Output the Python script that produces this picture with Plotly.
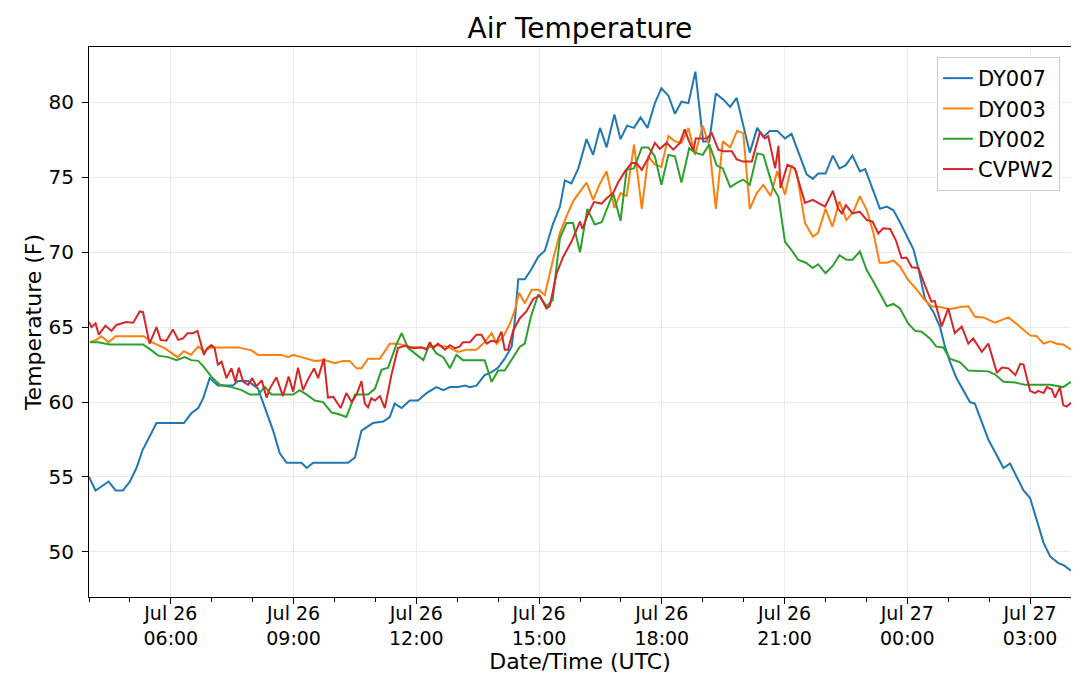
import pandas as pd
import plotly.graph_objects as go

# ---------------- data (hours after Jul 26 04:00 UTC, temperature in F) ----------------
dy007_h = [0.00, 0.16, 0.48, 0.65, 0.83, 1.00, 1.16, 1.31, 1.65, 2.32, 2.50, 2.67, 2.79, 2.95,
           3.15, 3.52, 3.64, 3.89, 4.13, 4.34, 4.50, 4.66, 4.83, 5.19, 5.32, 5.48, 6.33, 6.50,
           6.66, 6.94, 7.19, 7.35, 7.47, 7.64, 7.84, 8.04, 8.25, 8.49, 8.66, 8.82, 9.02, 9.19,
           9.31, 9.47, 9.67, 9.84, 10.00, 10.16, 10.33, 10.41, 10.49, 10.65, 10.82, 10.98, 11.14,
           11.34, 11.51, 11.63, 11.79, 11.96, 12.16, 12.32, 12.49, 12.65, 12.84, 12.99, 13.15,
           13.32, 13.48, 13.65, 13.83, 13.99, 14.16, 14.32, 14.48, 14.65, 14.82, 15.01, 15.16,
           15.32, 15.50, 15.67, 15.83, 16.15, 16.33, 16.48, 16.64, 16.82, 17.01, 17.17, 17.54,
           17.69, 17.82, 18.00, 18.18, 18.34, 18.49, 18.66, 18.84, 18.97, 19.33, 19.50, 19.66,
           19.82, 20.15, 20.27, 20.43, 20.64, 20.80, 20.92, 21.04, 21.20, 21.36, 21.53, 21.65,
           21.98, 22.35, 22.51, 22.84, 23.00, 23.33, 23.49, 23.69, 23.83, 24.00]
dy007_t = [55.0, 54.1, 54.7, 54.1, 54.1, 54.7, 55.6, 56.8, 58.6, 58.6, 59.25, 59.6, 60.25, 61.6,
           61.1, 61.1, 61.4, 61.4, 60.9, 59.25, 58.1, 56.6, 55.95, 55.95, 55.6, 55.95, 55.95, 56.3,
           58.1, 58.6, 58.7, 59.0, 59.9, 59.6, 60.1, 60.1, 60.6, 61.0, 60.8, 61.0, 61.0, 61.1,
           61.0, 61.1, 61.8, 62.0, 62.3, 62.9, 63.7, 65.5, 68.2, 68.2, 68.9, 69.7, 70.1,
           71.9, 73.05, 74.8, 74.6, 75.6, 77.55, 76.5, 78.3, 77.0, 79.2, 77.55, 78.45,
           78.3, 79.0, 78.3, 79.95, 80.95, 80.45, 79.25, 80.05, 79.95, 82.05, 77.4, 77.4,
           80.6, 80.2, 79.7, 80.3, 76.65, 78.3, 77.7, 78.1, 78.1, 77.6, 77.9, 75.2,
           74.9, 75.25, 75.25, 76.45, 75.6, 75.8, 76.45, 75.4, 75.55, 72.9, 73.05, 72.8,
           72.0, 70.2, 68.9, 66.9, 66.0, 65.0, 63.7, 62.7, 61.6, 60.8, 60.0, 59.9,
           57.5, 55.6, 55.9, 54.1, 53.6, 50.6, 49.7, 49.25, 49.1, 48.75]

dy003_h = [0.02, 0.18, 0.30, 0.48, 0.65, 1.34, 1.53, 1.85, 2.16, 2.32, 2.49, 2.67, 2.81, 2.99,
           3.64, 3.97, 4.13, 4.70, 4.87, 4.99, 5.19, 5.52, 5.76, 6.01, 6.21, 6.37, 6.54, 6.66,
           6.82, 7.11, 7.35, 7.55, 7.84, 8.25, 8.49, 8.74, 9.02, 9.23, 9.47, 9.67, 9.84, 9.96,
           10.12, 10.29, 10.41, 10.51, 10.65, 10.82, 10.98, 11.14, 11.34, 11.51, 11.67, 11.83,
           12.00, 12.16, 12.32, 12.49, 12.65, 12.84, 12.99, 13.14, 13.32, 13.51, 13.67, 13.83,
           13.99, 14.16, 14.32, 14.48, 14.65, 14.81, 15.00, 15.16, 15.32, 15.49, 15.67, 15.84,
           15.99, 16.15, 16.32, 16.48, 16.66, 16.82, 17.01, 17.17, 17.29, 17.50, 17.69, 17.82,
           18.00, 18.17, 18.34, 18.51, 18.68, 18.84, 19.01, 19.17, 19.32, 19.50, 19.66, 19.82,
           20.02, 20.23, 20.43, 20.59, 20.80, 21.04, 21.29, 21.49, 21.65, 21.86, 22.14, 22.47,
           22.68, 23.00, 23.16, 23.33, 23.49, 23.65, 23.81, 24.00]
dy003_t = [64.0, 64.15, 64.4, 64.0, 64.4, 64.4, 64.0, 63.6, 63.0, 63.4, 63.15, 63.7, 63.4, 63.65,
           63.65, 63.45, 63.15, 63.15, 63.0, 63.15, 63.0, 62.75, 62.8, 62.6, 62.75, 62.75, 62.25, 62.25,
           62.9, 62.9, 63.9, 63.9, 63.7, 63.6, 63.8, 63.7, 63.35, 63.5, 63.5, 64.0, 64.6, 63.9,
           64.35, 65.25, 66.15, 67.3, 66.6, 67.5, 67.5, 67.15, 69.5, 71.3, 72.4, 73.4,
           74.05, 74.65, 73.5, 74.6, 75.4, 72.95, 73.95, 73.75, 77.2, 72.9, 76.4, 75.85,
           75.7, 77.75, 77.4, 77.3, 78.3, 76.5, 78.45, 77.1, 72.9, 77.4, 77.0, 78.1,
           77.95, 72.9, 73.95, 74.5, 73.75, 75.4, 73.85, 75.8, 75.4, 71.95, 71.05, 71.3,
           72.9, 71.7, 73.4, 72.15, 72.7, 73.75, 72.8, 71.3, 69.3, 69.3, 69.45, 69.05,
           68.15, 67.5, 66.8, 66.4, 66.35, 66.2, 66.35, 66.4, 65.7, 65.65, 65.3, 65.65,
           65.2, 64.45, 64.4, 63.9, 64.05, 63.9, 63.85, 63.5]

dy002_h = [0.02, 0.22, 0.51, 1.32, 1.53, 1.69, 1.93, 2.14, 2.34, 2.50, 2.67, 2.79, 2.99, 3.20,
           3.48, 3.73, 3.93, 4.13, 4.30, 4.46, 4.99, 5.15, 5.32, 5.52, 5.72, 5.93, 6.09, 6.29,
           6.50, 6.82, 6.99, 7.15, 7.31, 7.52, 7.64, 7.80, 8.17, 8.33, 8.49, 8.66, 8.82, 8.98,
           9.14, 9.67, 9.84, 10.00, 10.16, 10.33, 10.53, 10.65, 10.80, 10.98, 11.18, 11.33,
           11.51, 11.67, 11.83, 12.00, 12.18, 12.36, 12.53, 12.81, 12.99, 13.14, 13.32, 13.51,
           13.67, 13.83, 13.99, 14.16, 14.32, 14.48, 14.67, 14.81, 15.00, 15.16, 15.34, 15.49,
           15.67, 15.84, 15.99, 16.15, 16.33, 16.48, 16.72, 16.85, 17.01, 17.17, 17.33, 17.52,
           17.69, 17.82, 18.00, 18.18, 18.34, 18.51, 18.66, 18.84, 19.01, 19.17, 19.50, 19.66,
           19.82, 20.02, 20.19, 20.35, 20.55, 20.71, 20.88, 21.04, 21.29, 21.49, 21.98, 22.14,
           22.35, 22.64, 22.88, 23.49, 23.81, 24.00]
dy002_t = [64.0, 64.0, 63.85, 63.85, 63.45, 63.1, 63.0, 62.8, 63.0, 62.8, 62.75, 62.4, 61.7, 61.15,
           61.0, 60.8, 60.5, 60.5, 61.0, 60.5, 60.5, 60.8, 60.5, 60.1, 60.0, 59.3, 59.2, 59.0,
           60.5, 60.5, 60.9, 62.15, 62.3, 63.9, 64.6, 63.6, 62.8, 63.9, 63.25, 63.0, 62.25, 63.15,
           62.8, 62.8, 61.35, 62.1, 62.1, 62.8, 63.7, 63.9, 65.7, 67.2, 66.4, 66.8,
           70.95, 71.95, 71.95, 70.0, 72.9, 71.85, 72.0, 73.95, 72.1, 75.5, 75.6, 77.0,
           77.0, 76.4, 74.5, 76.5, 76.4, 74.65, 76.95, 76.65, 76.5, 77.2, 75.8, 75.6,
           74.35, 74.65, 74.85, 74.5, 76.6, 76.5, 74.3, 73.7, 70.7, 70.15, 69.5, 69.3,
           68.95, 69.2, 68.6, 69.1, 69.8, 69.5, 69.5, 70.05, 68.8, 68.05, 66.4, 66.55,
           66.25, 65.25, 64.75, 64.7, 64.25, 63.7, 63.65, 62.9, 62.65, 62.1, 62.05, 61.85,
           61.35, 61.3, 61.15, 61.15, 61.0, 61.35]

cvpw2_h = [0.00, 0.06, 0.16, 0.24, 0.40, 0.55, 0.67, 0.91, 1.08, 1.24, 1.32, 1.48, 1.65, 1.75,
           1.89, 2.05, 2.18, 2.30, 2.41, 2.54, 2.65, 2.81, 2.89, 2.99, 3.07, 3.15, 3.24, 3.36,
           3.48, 3.58, 3.66, 3.77, 3.89, 3.99, 4.09, 4.22, 4.34, 4.42, 4.58, 4.74, 4.88, 4.99,
           5.11, 5.23, 5.34, 5.50, 5.60, 5.74, 5.84, 5.97, 6.15, 6.29, 6.42, 6.54, 6.66, 6.74,
           6.82, 6.90, 6.99, 7.11, 7.23, 7.39, 7.55, 7.72, 7.92, 8.13, 8.25, 8.33, 8.41, 8.53,
           8.70, 8.82, 8.94, 9.06, 9.14, 9.31, 9.47, 9.59, 9.72, 9.84, 9.96, 10.08, 10.16, 10.24,
           10.37, 10.53, 10.69, 10.86, 11.02, 11.18, 11.26, 11.43, 11.59, 11.79, 12.00, 12.06,
           12.18, 12.34, 12.53, 12.65, 12.81, 12.93, 13.10, 13.26, 13.38, 13.51, 13.67, 13.83,
           13.95, 14.12, 14.28, 14.44, 14.56, 14.65, 14.77, 14.83, 15.10, 15.22, 15.38, 15.50,
           15.71, 15.83, 15.99, 16.20, 16.40, 16.52, 16.60, 16.77, 16.85, 16.90, 17.07, 17.25,
           17.50, 17.69, 17.82, 17.99, 18.18, 18.31, 18.40, 18.50, 18.66, 18.84, 19.01, 19.15,
           19.29, 19.41, 19.58, 19.72, 19.86, 19.98, 20.11, 20.27, 20.47, 20.59, 20.67, 20.84,
           21.00, 21.16, 21.33, 21.49, 21.61, 21.82, 21.98, 22.19, 22.31, 22.47, 22.64, 22.76,
           22.84, 23.00, 23.12, 23.20, 23.33, 23.41, 23.53, 23.61, 23.73, 23.81, 23.89, 24.00]
cvpw2_t = [65.35, 65.0, 65.25, 64.5, 65.1, 64.75, 65.15, 65.35, 65.3, 66.05, 66.0, 63.9, 65.0, 64.15,
           64.1, 64.85, 64.15, 64.25, 64.6, 64.6, 64.75, 63.15, 63.6, 63.8, 63.6, 62.5, 62.7, 61.6,
           62.25, 61.35, 62.3, 61.35, 61.15, 61.6, 61.05, 61.45, 60.3, 60.9, 61.65, 60.4, 61.7, 60.7,
           62.3, 60.8, 61.45, 62.25, 61.6, 62.9, 60.3, 60.35, 59.6, 60.6, 60.0, 60.5, 61.4, 59.9,
           59.65, 60.25, 60.1, 60.4, 59.6, 61.8, 63.6, 63.75, 63.6, 63.65, 63.5, 64.0, 63.6, 63.9,
           63.5, 63.8, 63.6, 63.7, 64.0, 64.0, 64.5, 64.5, 63.9, 64.1, 64.0, 64.7, 63.5, 63.5,
           64.8, 65.6, 66.05, 66.9, 67.1, 66.25, 66.4, 68.6, 69.7, 70.7, 72.05, 71.55,
           72.45, 73.35, 73.25, 73.6, 73.95, 74.65, 75.4, 75.95, 75.95, 75.5, 76.3, 77.3,
           76.9, 77.3, 76.85, 77.3, 78.2, 77.5, 76.8, 77.6, 77.6, 77.95, 76.85, 76.75,
           76.75, 76.2, 76.05, 76.05, 78.05, 77.6, 77.75, 75.6, 77.1, 74.3, 75.85, 75.6,
           73.3, 73.5, 73.3, 73.05, 74.1, 72.9, 72.6, 73.15, 72.6, 72.7, 72.15, 72.05,
           71.25, 71.6, 71.55, 70.8, 69.6, 69.65, 69.0, 68.95, 67.5, 66.7, 66.75, 65.05,
           66.25, 64.6, 65.05, 63.9, 64.25, 63.35, 63.9, 61.95, 62.3, 62.25, 61.8, 62.55,
           62.5, 60.75, 60.6, 60.75, 60.6, 61.0, 60.85, 60.3, 61.0, 59.8, 59.7, 59.95]

series_names = ["DY007", "DY003", "DY002", "CVPW2"]
series_colors = ["#1f77b4", "#ff7f0e", "#2ca02c", "#d62728"]

tick_hours = [2, 5, 8, 11, 14, 17, 20, 23]
tick_labels = ["Jul 26<br>06:00", "Jul 26<br>09:00", "Jul 26<br>12:00", "Jul 26<br>15:00",
               "Jul 26<br>18:00", "Jul 26<br>21:00", "Jul 27<br>00:00", "Jul 27<br>03:00"]
y_ticks = [50, 55, 60, 65, 70, 75, 80]

start = pd.Timestamp("2019-07-26 04:00")


def to_time(hours):
    return start + pd.to_timedelta(hours, unit="h")


fig = go.Figure()
for name, color, hrs, vals in zip(series_names, series_colors,
                                  [dy007_h, dy003_h, dy002_h, cvpw2_h],
                                  [dy007_t, dy003_t, dy002_t, cvpw2_t]):
    fig.add_trace(go.Scatter(x=to_time(hrs), y=vals, mode="lines", name=name,
                             line=dict(color=color, width=2)))

font = "DejaVu Sans, Verdana, sans-serif"
# the page body adds an 8px offset, so the figure is 8px smaller on each side
fig.update_layout(
    width=1071, height=677,
    margin=dict(l=81, r=8, t=39, b=88, autoexpand=False),
    paper_bgcolor="white", plot_bgcolor="white",
    font=dict(family=font, size=19, color="black"),
    title=dict(text="Air Temperature", x=0.534, xanchor="center", y=0.955, yanchor="bottom",
               font=dict(size=28, color="black")),
    showlegend=True,
    legend=dict(x=0.9888, y=0.9818, xanchor="right", yanchor="top",
                bgcolor="rgba(255,255,255,0.8)", bordercolor="#cccccc", borderwidth=1,
                font=dict(size=21), tracegroupgap=0),
)
fig.update_xaxes(
    range=[start, start + pd.Timedelta(hours=24)],
    tickvals=to_time(tick_hours), ticktext=tick_labels,
    ticks="outside", ticklen=6, tickwidth=1, tickcolor="black",
    showgrid=True, gridcolor="#ebebeb", gridwidth=1,
    showline=True, linecolor="black", linewidth=1, mirror=True,
    zeroline=False, automargin=False,
    minor=dict(ticks="outside", ticklen=4, tickcolor="black", dtick=3600000,
               tick0=start, showgrid=False),
    title=dict(text="Date/Time (UTC)", font=dict(size=22), standoff=6),
    tickfont=dict(size=19),
    ticklabelstandoff=-7,
)
fig.update_yaxes(
    range=[46.99, 83.70],
    tickvals=y_ticks,
    ticks="outside", ticklen=6, tickwidth=1, tickcolor="black",
    showgrid=True, gridcolor="#ebebeb", gridwidth=1,
    showline=True, linecolor="black", linewidth=1, mirror=True,
    zeroline=False, automargin=False,
    title=dict(text="Temperature (F)", font=dict(size=22), standoff=0),
    tickfont=dict(size=20),
    ticklabelstandoff=4,
)

fig.write_html("out.html")
